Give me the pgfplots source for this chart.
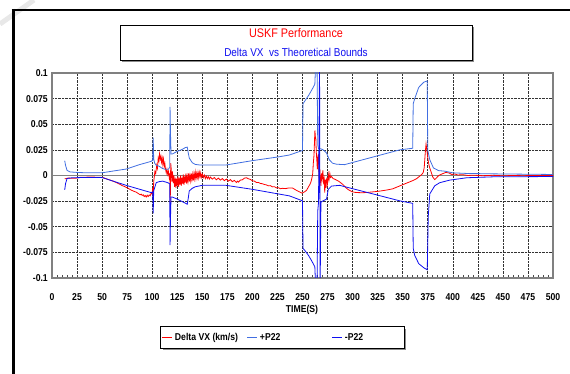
\documentclass[border=0pt]{standalone}
\usepackage{pgfplots}
\pgfplotsset{compat=1.18}
\usepackage{fontspec}
\setmainfont{Liberation Sans}[FakeStretch=0.87]
\usetikzlibrary{shadows,backgrounds}
\definecolor{pplus}{RGB}{65,110,225}
\definecolor{pminus}{RGB}{15,15,240}
\definecolor{dvx}{RGB}{255,0,0}
\newcommand{\tk}{\fontsize{10}{11}\selectfont\bfseries}
\begin{document}
\begin{tikzpicture}
\path[use as bounding box] (0bp,0bp) rectangle (570bp,374bp);
% frame
\draw[gray!18, line width=5bp] (0bp,350bp) -- (34bp,374bp);
\draw[line width=2.5bp] (11.5bp,364bp) -- (570bp,364bp);
\draw[line width=3bp] (13bp,365bp) -- (13bp,0bp);
% title box
\node[draw, line width=0.8bp, fill=white, minimum width=352bp, minimum height=35bp, inner sep=0,
      drop shadow={shadow xshift=2bp, shadow yshift=-2bp, fill=black!45, opacity=1}] at (296bp,331.5bp) {};
\node[text=red, font=\fontsize{12.5}{13}\selectfont] at (296bp,340.5bp) {USKF Performance};
\node[text=pminus, font=\fontsize{11.5}{12}\selectfont] at (296bp,321.3bp) {Delta VX\ \ vs Theoretical Bounds};
\begin{axis}[
  at={(52bp,96bp)}, anchor=south west,
  scale only axis, width=501bp, height=205bp,
  xmin=0, xmax=500, ymin=-0.1, ymax=0.1,
  xtick={0,25,...,500},
  xticklabels={0,25,50,75,100,125,150,175,200,225,250,275,300,325,350,375,400,425,450,475,500},
  ytick={-0.1,-0.075,-0.05,-0.025,0,0.025,0.05,0.075,0.1},
  yticklabels={-0.1,-0.075,-0.05,-0.025,0,0.025,0.05,0.075,0.1},
  minor x tick num=4,
  tick align=inside, xtick pos=left,
  major tick length=3bp, minor tick length=3bp,
  xtick style={black!70, line width=0.6bp},
  ytick style={draw=none},
  grid=major,
  major grid style={densely dotted, black!80, line width=0.6bp},
  axis line style={gray, line width=1.3bp},
  extra y ticks={0}, extra y tick labels={},
  extra y tick style={grid=major, major grid style={solid, gray, line width=1.6bp}},
  xticklabel style={font=\tk, anchor=center, yshift=-19bp},
  yticklabel style={font=\tk, anchor=east, inner xsep=0pt, xshift=-4bp},
  xlabel={TIME(S)},
  xlabel style={font=\tk, at={(axis description cs:0.499,-0.156)}, anchor=center},
  legend columns=3,
  legend image code/.code={\draw[#1, line width=1bp] (0bp,0bp) -- (10bp,0bp);},
  legend style={at={(axis description cs:0.46,-0.29)}, anchor=center, name=leg,
     draw=none, fill=none, font=\tk,
     inner xsep=1bp, inner ysep=4bp, /tikz/column sep=0pt},
  legend cell align=left,
]
\addplot[dvx, line width=0.8bp] coordinates {
(12.7,-0.0032) (14,-0.003) (16,-0.0025) (20,-0.0027) (24,-0.0026) (28,-0.0018) (35,-0.0016) (42,-0.0016) (48,-0.0017)
(51,-0.002) (55,-0.0035) (58,-0.0045) (61,-0.0055) (64,-0.0068) (67,-0.0082) (70,-0.0098) (73,-0.011) (76,-0.0125)
(79,-0.0142) (82,-0.0155) (84,-0.0162) (86,-0.0175) (88,-0.0188) (89,-0.0182) (90,-0.0195) (91,-0.0188) (92,-0.0205)
(93,-0.0195) (94,-0.021) (95,-0.0192) (96,-0.0205) (97,-0.019) (98,-0.0198) (99,-0.0172) (100,-0.018) (100.5,-0.012)
(101,-0.022) (101.5,-0.006) (102,-0.002) (102.7,0.004) (103.5,0.002) (104.5,0.010) (105.2,0.007) (106,0.017) (106.7,0.014)
(107.3,0.021) (108,0.016) (108.7,0.019) (109.3,0.013) (110,0.017) (110.6,0.011) (111.2,0.016) (112,0.009) (112.6,0.012)
(113.3,0.006) (114,0.0026) (114.7,0.006) (115.5,0.001) (116.2,0.004) (117,-0.002) (117.6,0.002) (118,-0.028) (118.5,0.012)
(119,0.006) (119.6,-0.006) (120.2,0.004) (121,-0.0074) (121.6,0.000) (122.3,-0.011) (123,-0.002) (123.7,-0.012)
(124.4,-0.003) (125,-0.010) (125.7,-0.001) (126.4,-0.011) (127,-0.002) (127.7,-0.009) (128.4,0.000) (129,-0.010)
(129.7,-0.002) (130.4,-0.008) (131,0.001) (131.7,-0.009) (132.4,-0.001) (133,-0.007) (133.7,0.002) (134.4,-0.008)
(135,-0.001) (135.7,-0.006) (136.4,0.002) (137,-0.006) (137.7,0.000) (138.4,-0.005) (139,0.002) (139.7,-0.004)
(140.4,0.001) (141,-0.005) (141.7,0.002) (142.4,-0.003) (143,0.003) (143.7,-0.003) (144.4,0.002) (145,-0.002)
(145.7,0.003) (146.4,-0.002) (147,0.003) (147.7,-0.001) (148.4,0.0025) (149,-0.002) (150,0.0015) (151,-0.002)
(152,0.0005) (153,-0.003) (154,-0.0005) (155,-0.003) (156,-0.001) (157,-0.0035) (158,-0.0015) (160,-0.0035) (162,-0.002)
(164,-0.0042) (166,-0.0025) (168,-0.0045) (170,-0.003) (172,-0.005) (174,-0.0035) (176,-0.0055) (178,-0.004)
(180,-0.006) (182,-0.0048) (184,-0.0068) (185,-0.0055) (186,-0.0065) (188,-0.0045) (190,-0.0042) (192,-0.0026)
(194,-0.0022) (196,-0.0032) (198,-0.0038) (200,-0.0052) (202,-0.0055) (204,-0.0068) (206,-0.0068) (208,-0.0078)
(210,-0.008) (212,-0.0088) (214,-0.0092) (216,-0.0101) (218,-0.0099) (220,-0.0111) (222,-0.0109) (224,-0.0121)
(226,-0.0119) (228,-0.0129) (230,-0.0125) (233,-0.0128) (236,-0.0122) (240,-0.0122) (244,-0.0145) (247,-0.016)
(249.5,-0.0172) (252,-0.016) (254,-0.0145) (256,-0.011) (257.5,-0.0085) (258.5,-0.006) (259.5,-0.002) (260.2,0.002)
(260.8,0.012) (261.5,0.02) (262,0.034) (262.4,0.044) (262.8,0.038) (263.3,0.036) (263.8,0.022) (264.3,0.015)
(264.8,0.006) (265.3,0.018) (265.8,0.021) (266.3,0.005) (266.8,-0.007) (267.3,0.006) (267.8,-0.004) (268.4,-0.01)
(269,0.002) (269.6,-0.003) (270.3,0.005) (271,-0.006) (271.6,-0.003) (272.2,-0.0167) (272.8,-0.004) (273.5,-0.012)
(274.2,-0.002) (275,-0.008) (275.8,0.001) (276.5,-0.004) (277.3,0.002) (278,-0.002) (279,-0.001) (280.5,-0.003)
(282,-0.0035) (284,-0.0045) (286,-0.0055) (288,-0.007) (290,-0.0085) (292,-0.0105) (294,-0.0125) (296,-0.014)
(298,-0.015) (300,-0.016) (303,-0.0165) (306,-0.0167) (310,-0.0168) (315,-0.0165) (320,-0.016) (325,-0.0155)
(330,-0.0148) (335,-0.014) (340,-0.013) (345,-0.011) (350,-0.009) (355,-0.007) (360,-0.005) (364,-0.003)
(367,-0.0006) (369,0.001) (370.5,0.003) (371.5,0.008) (372.5,0.022) (373.3,0.0308) (374,0.026) (374.7,0.020)
(375.5,0.014) (376.5,0.009) (377.5,0.006) (378.5,0.003) (380,-0.0015) (382,-0.004) (384,-0.002) (386,0.0)
(388,0.001) (390,0.0018) (393,0.003) (396,0.0025) (399,0.001) (402,0.0015) (405,0.0005) (410,0.0008) (415,0.0)
(420,0.0003) (430,-0.0002) (440,0.0002) (450,-0.0003) (460,0.0) (470,-0.0002) (480,0.0) (500,0.0)
};
\addlegendentry{\makebox[70bp][l]{Delta VX (km/s)}}
\addplot[pplus, line width=0.8bp] coordinates {
(12.7,0.0144) (13.5,0.010) (15,0.005) (18,0.0035) (25,0.003) (35,0.0026) (45,0.0026) (51,0.0028) (60,0.0042)
(74,0.0063) (87,0.0105) (99,0.0138) (100.5,0.015) (101,0.037) (101.5,0.016) (102.5,0.012) (104,0.010) (107,0.009)
(110,0.007) (113,0.006) (116,0.006) (117.5,0.008) (117.8,0.067) (118.3,0.04) (118.8,0.021) (120,0.021) (125,0.0235)
(130,0.0255) (133,0.0272) (135,0.0277) (136,0.022) (137,0.017) (140,0.0125) (143,0.0108) (148,0.0102) (160,0.0102)
(174,0.0103) (200,0.0145) (225,0.018) (237,0.020) (250,0.0244) (250.5,0.070) (253,0.0737) (256,0.078) (259,0.083)
(262.3,0.089) (263.2,0.11) (264.5,0.11) (265.2,0.03) (266,0.026) (268.4,0.026) (270.7,0.025) (274,0.022)
(276.7,0.0154) (280,0.012) (284,0.011) (292,0.0106) (347,0.025) (360,0.0266) (360.5,0.070) (362,0.075) (366,0.086)
(371,0.091) (374.5,0.0923) (375,0.025) (377,0.0154) (380.7,0.0074) (385.7,0.0048) (392,0.0042) (400,0.0026)
(414,0.002) (440.7,0.0016) (500,0.001)
};
\addlegendentry{\makebox[70bp][l]{+P22}}
\addplot[pminus, line width=0.8bp] coordinates {
(12.7,-0.014) (13.5,-0.008) (15,-0.003) (20,-0.0022) (30,-0.002) (50,-0.002) (74,-0.0096) (99,-0.0167) (100.5,-0.016)
(101,-0.037) (101.5,-0.015) (104,-0.007) (107,-0.006) (110.5,-0.0055) (115.5,-0.007) (117.5,-0.008) (117.8,-0.068)
(118.3,-0.04) (118.8,-0.021) (120,-0.021) (125,-0.023) (130,-0.0255) (135,-0.028) (136,-0.022) (137,-0.015)
(140,-0.0125) (143,-0.011) (150,-0.0096) (173,-0.0095) (200,-0.0135) (237,-0.0199) (250,-0.0247) (250.5,-0.071)
(253,-0.074) (256,-0.078) (259,-0.083) (262.3,-0.089) (263.2,-0.11) (264.5,-0.11) (265.2,-0.035) (266,-0.026)
(267,0.11) (267.6,-0.11) (268.4,-0.026) (270,-0.025) (274,-0.023) (275.7,-0.0135) (279,-0.0103) (287,-0.0096)
(347,-0.0247) (360,-0.0272) (360.5,-0.071) (362,-0.078) (366,-0.086) (371,-0.090) (374.5,-0.092) (375.5,-0.04)
(377,-0.018) (382,-0.010) (387,-0.007) (397,-0.0045) (414,-0.0022) (440,-0.0013) (500,-0.001)
};
\addlegendentry{\makebox[56bp][l]{-P22}}
\end{axis}
\begin{scope}[on background layer]
\fill[black!45] ([shift={(2bp,-2bp)}]leg.south west) rectangle ([shift={(2bp,-2bp)}]leg.north east);
\filldraw[fill=white, draw=black, line width=0.8bp] (leg.south west) rectangle (leg.north east);
\end{scope}
\end{tikzpicture}
\end{document}
